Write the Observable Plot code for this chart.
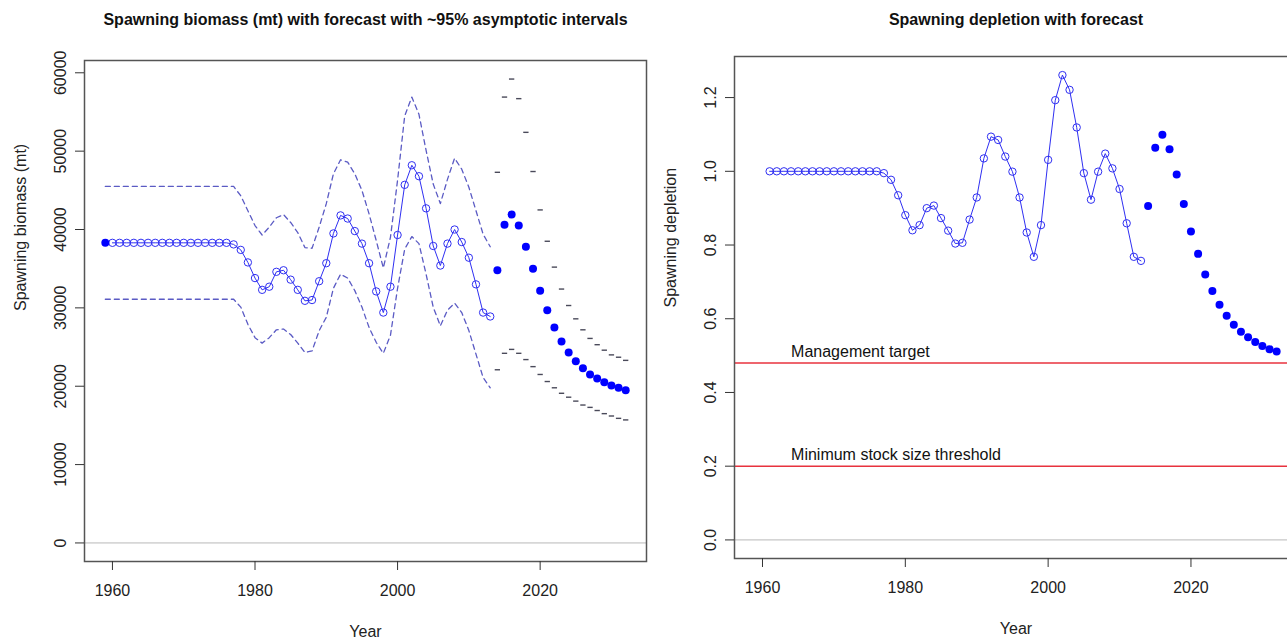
<!DOCTYPE html>
<html>
<head>
<meta charset="utf-8">
<script src="https://cdn.jsdelivr.net/npm/d3@7"></script>
<script src="https://cdn.jsdelivr.net/npm/@observablehq/plot@0.6"></script>
<style>
  html, body { margin: 0; padding: 0; background: #fff; overflow: hidden; }
  #wrap { position: relative; width: 1287px; height: 639px; overflow: hidden; }
  #wrap svg { position: absolute; top: 0; }
</style>
</head>
<body>
<div id="wrap"></div>
<script>
// ---- Spawning biomass (mt) ----
const virginYear = 1959;
const virginBiomass = 38300;

const histYears = d3.range(1960, 2014);
const histBiomass = [
  38300, 38300, 38300, 38300, 38300, 38300, 38300, 38300, 38300, 38300,
  38300, 38300, 38300, 38300, 38300, 38300, 38300, 38100, 37400, 35800,
  33800, 32300, 32700, 34600, 34800, 33600, 32300, 30900, 31000, 33400,
  35700, 39500, 41800, 41400, 39800, 38200, 35700, 32100, 29400, 32700,
  39300, 45700, 48200, 46800, 42700, 37900, 35400, 38200, 40000, 38400,
  36400, 33000, 29400, 28900
];

// ~95% asymptotic interval for the assessment years (1959-2013)
const ciYears = d3.range(1959, 2014);
const histUpper = [
  45500, 45500, 45500, 45500, 45500, 45500, 45500, 45500, 45500, 45500,
  45500, 45500, 45500, 45500, 45500, 45500, 45500, 45500, 45500, 44300,
  42400, 40500, 39300, 40300, 41500, 41900, 40900, 39600, 37700, 37600,
  40300, 43300, 47100, 48900, 48600, 47100, 45000, 42000, 38600, 35100,
  39000, 46300, 54500, 56900, 54700, 50100, 45800, 43300, 46400, 49100,
  47700, 45400, 42400, 39400, 37800
];
const histLower = [
  31100, 31100, 31100, 31100, 31100, 31100, 31100, 31100, 31100, 31100,
  31100, 31100, 31100, 31100, 31100, 31100, 31100, 31100, 31100, 30100,
  27900, 26200, 25500, 26200, 27200, 27300, 26600, 25500, 24300, 24500,
  27100, 28800, 32500, 34300, 33800, 32200, 30100, 27500, 25600, 24200,
  26500, 32500, 37500, 39100, 38200, 34300, 30100, 27700, 29700, 30600,
  29400, 27100, 24100, 21100, 19800
];

// Forecast years
const fcstYears = d3.range(2014, 2033);
const fcstBiomass = [
  34800, 40600, 41900, 40500, 37800, 35000, 32200, 29700, 27500, 25700,
  24300, 23200, 22300, 21500, 21000, 20500, 20100, 19800, 19500
];
const fcstUpper = [
  47300, 56900, 59200, 56700, 52400, 47400, 42500, 38500, 35200, 32400,
  30300, 28600, 27200, 26100, 25300, 24600, 24000, 23700, 23300
];
const fcstLower = [
  22100, 24200, 24700, 24200, 23400, 22500, 21500, 20600, 19800, 19100,
  18600, 18100, 17600, 17300, 16900, 16500, 16200, 15900, 15700
];

// ---- Spawning depletion ----
const deplYears = d3.range(1961, 2014);
const histDepletion = [
  1.000, 1.000, 1.000, 1.000, 1.000, 1.000, 1.000, 1.000, 1.000, 1.000,
  1.000, 1.000, 1.000, 1.000, 1.000, 1.000, 0.995, 0.977, 0.935, 0.881,
  0.840, 0.854, 0.900, 0.907, 0.873, 0.839, 0.804, 0.806, 0.869, 0.929,
  1.035, 1.094, 1.085, 1.040, 0.999, 0.929, 0.834, 0.768, 0.854, 1.031,
  1.193, 1.261, 1.221, 1.119, 0.995, 0.923, 0.999, 1.048, 1.008, 0.952,
  0.859, 0.768, 0.757
];
const fcstDepletion = [
  0.906, 1.064, 1.099, 1.060, 0.991, 0.911, 0.837, 0.776, 0.720, 0.675,
  0.638, 0.608, 0.584, 0.565, 0.550, 0.537, 0.526, 0.517, 0.511
];

const refLabels = ["Management target", "Minimum stock size threshold"];
const refValues = [0.48, 0.2];

const xTicks = [1960, 1980, 2000, 2020];
const biomassTicks = [0, 10000, 20000, 30000, 40000, 50000, 60000];
const depletionTicks = [0, 0.2, 0.4, 0.6, 0.8, 1.0, 1.2];

// ---- tables ----
const histSB = histYears.map((year, i) => ({year, value: histBiomass[i]}));
const ciSB = ciYears.map((year, i) => ({year, upper: histUpper[i], lower: histLower[i]}));
const fcstSB = fcstYears.map((year, i) => ({year, value: fcstBiomass[i], upper: fcstUpper[i], lower: fcstLower[i]}));
const histDepl = deplYears.map((year, i) => ({year, value: histDepletion[i]}));
const fcstDepl = fcstYears.map((year, i) => ({year, value: fcstDepletion[i]}));
const refs = refLabels.map((label, i) => ({label, value: refValues[i]}));

// padded year domain (4% each side, as in base graphics)
const allYears = [virginYear, ...fcstYears];
const [y0, y1] = d3.extent(allYears);
const xPad = (y1 - y0) * 0.04;
const xDomain = [y0 - xPad, y1 + xPad];

function padDomain(max) { const p = max * 0.04; return [-p, max + p]; }

// short horizontal bar symbol for forecast interval points
const dashSymbol = {
  draw(context, size) {
    const w = Math.sqrt(size);
    context.moveTo(-w, 0);
    context.lineTo(w, 0);
  }
};

const FONT = "'Liberation Sans', Arial, Helvetica, sans-serif";
const BLUE = "#2f2ff2";
const CI = "#5b5bc4";
const AXIS = "#333";

function commonAxes(yTicks, yFormat) {
  return [
    Plot.axisX(xTicks, {tickSize: 9, tickPadding: 14, tickFormat: d => String(d), stroke: AXIS, fill: "#222", label: null}),
    Plot.axisY(yTicks, {tickSize: 9, tickPadding: 10, tickRotate: -90, tickFormat: yFormat, stroke: AXIS, fill: "#222", label: null}),
    Plot.text(["Year"], {frameAnchor: "bottom", dy: 64, lineAnchor: "top", text: d => d, fill: "#222"})
  ];
}

// Left panel: spawning biomass
const biomassMax = d3.max([...fcstUpper, ...histUpper]);
const left = Plot.plot({
  width: 660, height: 639,
  marginLeft: 84, marginRight: 14, marginTop: 60, marginBottom: 78,
  x: {domain: xDomain, axis: null},
  y: {domain: padDomain(biomassMax), axis: null},
  style: {fontFamily: FONT, fontSize: "16px", background: "white"},
  marks: [
    Plot.ruleY([0], {stroke: "#b8b8b8", strokeWidth: 1}),
    Plot.line(ciSB, {x: "year", y: "upper", stroke: CI, strokeWidth: 1.3, strokeDasharray: "5,4"}),
    Plot.line(ciSB, {x: "year", y: "lower", stroke: CI, strokeWidth: 1.3, strokeDasharray: "5,4"}),
    Plot.dot(fcstSB, {x: "year", y: "upper", symbol: dashSymbol, r: 1.5, stroke: "#4a4a5a", strokeWidth: 1.4, fill: "none"}),
    Plot.dot(fcstSB, {x: "year", y: "lower", symbol: dashSymbol, r: 1.5, stroke: "#4a4a5a", strokeWidth: 1.4, fill: "none"}),
    Plot.line(histSB, {x: "year", y: "value", stroke: BLUE, strokeWidth: 1}),
    Plot.dot(histSB, {x: "year", y: "value", r: 3.7, stroke: BLUE, strokeWidth: 1, fill: "none"}),
    Plot.dot([{year: virginYear, value: virginBiomass}], {x: "year", y: "value", r: 4, fill: "#0000ff", stroke: "none"}),
    Plot.dot(fcstSB, {x: "year", y: "value", r: 4, fill: "#0000ff", stroke: "none"}),
    Plot.frame({stroke: "#555", strokeWidth: 1.5}),
    ...commonAxes(biomassTicks, d => String(d)),
    Plot.text(["Spawning biomass (mt)"], {frameAnchor: "left", rotate: -90, dx: -59, lineAnchor: "bottom", text: d => d, fill: "#222"}),
    Plot.text(["Spawning biomass (mt) with forecast with ~95% asymptotic intervals"], {frameAnchor: "top", dy: -36, lineAnchor: "bottom", text: d => d, fontWeight: "bold", fontSize: 16, fill: "#111"})
  ]
});
left.style.left = "0px";

// Right panel: spawning depletion
const deplMax = d3.max([...histDepletion, ...fcstDepletion]);
const right = Plot.plot({
  width: 680, height: 639,
  marginLeft: 84, marginRight: 33, marginTop: 56, marginBottom: 81,
  x: {domain: xDomain, axis: null},
  y: {domain: padDomain(deplMax), axis: null},
  style: {fontFamily: FONT, fontSize: "16px", background: "transparent"},
  marks: [
    Plot.ruleY([0], {stroke: "#b8b8b8", strokeWidth: 1}),
    Plot.ruleY(refs, {y: "value", stroke: "#e8323e", strokeWidth: 1.4}),
    Plot.text(refs, {x: 1964, y: "value", text: "label", dy: -6, textAnchor: "start", lineAnchor: "bottom", fill: "#111"}),
    Plot.line(histDepl, {x: "year", y: "value", stroke: BLUE, strokeWidth: 1}),
    Plot.dot(histDepl, {x: "year", y: "value", r: 3.7, stroke: BLUE, strokeWidth: 1, fill: "none"}),
    Plot.dot(fcstDepl, {x: "year", y: "value", r: 4, fill: "#0000ff", stroke: "none"}),
    Plot.frame({stroke: "#555", strokeWidth: 1.5}),
    ...commonAxes(depletionTicks, d => d.toFixed(1)),
    Plot.text(["Spawning depletion"], {frameAnchor: "left", rotate: -90, dx: -59, lineAnchor: "bottom", text: d => d, fill: "#222"}),
    Plot.text(["Spawning depletion with forecast"], {frameAnchor: "top", dy: -32, lineAnchor: "bottom", text: d => d, fontWeight: "bold", fontSize: 16, fill: "#111"})
  ]
});
right.style.left = "650px";

const wrap = document.getElementById("wrap");
wrap.append(left, right);
</script>
</body>
</html>
